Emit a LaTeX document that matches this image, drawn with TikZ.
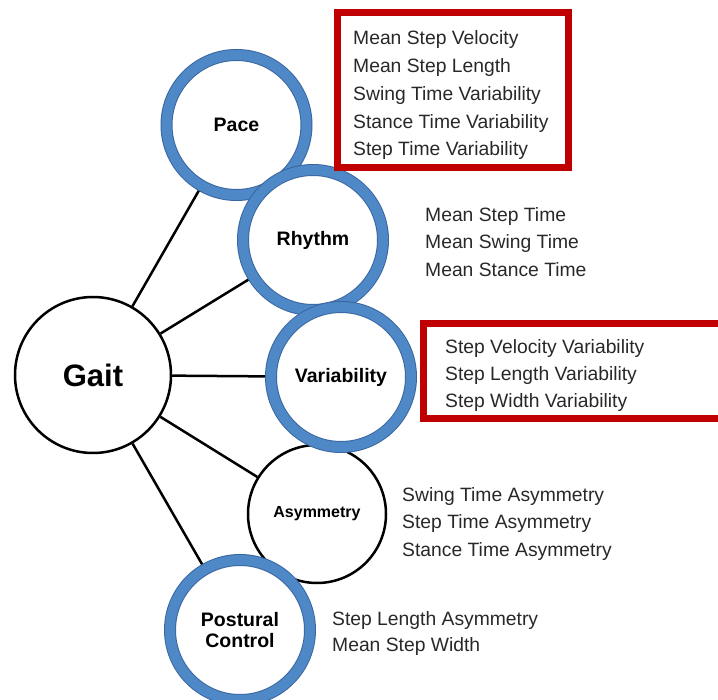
\documentclass[tikz,border=0pt]{standalone}
\usepackage{fontspec}
\setmainfont{Liberation Sans}
\usetikzlibrary{backgrounds}
\definecolor{bleuanneau}{RGB}{79,136,199}
\definecolor{bordanneau}{RGB}{58,102,160}
\definecolor{rougecadre}{RGB}{192,0,0}
\definecolor{grisitem}{RGB}{40,40,40}

\begin{document}
\begin{tikzpicture}[x=1pt, y=-1pt]
	\tikzset{noeud/.style={circle, draw=black, line width=2.5pt, fill=white, minimum size=138pt, inner sep=0pt, align=center, font=\bfseries\fontsize{19.5}{21}\selectfont},
	anneau/.style={noeud, draw=bordanneau, line width=1pt, double=bleuanneau, double distance=10pt, minimum size=140pt},
	item/.style={anchor=base west, inner sep=0pt, text=grisitem, font=\fontsize{19.3}{23}\selectfont},
	cadre/.style={draw=rougecadre, line width=7pt},
	lien/.style={draw=black, line width=2.5pt}};

	\useasboundingbox (0,0) rectangle (718,700);

	% les cercles
	\node[noeud, minimum size=156pt, font=\bfseries\fontsize{31}{33}\selectfont] (gait) at (93,375) {Gait};
	\node[anneau] (pace) at (236.5,125) {Pace};
	\node[anneau] (rhythm) at (313,240) {Rhythm};
	\node[noeud, font=\bfseries\fontsize{16}{18}\selectfont] (asym) at (317,514) {Asymmetry};
	\node[anneau] (var) at (341,377) {Variability};
	\node[anneau] (post) at (240,630) {Postural\\Control};

	\begin{scope}[on background layer]
		\foreach \cible in {pace, rhythm, var, asym, post}
			\draw[lien] (gait) -- (\cible);
	\end{scope}

	% les listes
	\foreach \nom/\x/\y/\pas/\liste in {
		pace/353/44.8/27.8/{Mean Step Velocity, Mean Step Length, Swing Time Variability, Stance Time Variability, Step Time Variability},
		rhythm/425/221.5/27.5/{Mean Step Time, Mean Swing Time, Mean Stance Time},
		var/445/353.5/27/{Step Velocity Variability, Step Length Variability, Step Width Variability},
		asym/402/501.5/27.5/{Swing Time Asymmetry, Step Time Asymmetry, Stance Time Asymmetry},
		post/332/625.5/26/{Step Length Asymmetry, Mean Step Width}}{
		\foreach \t [count=\i] in \liste
			\node[item] (\nom-\i) at (\x, \y + \pas * \i - \pas) {\t};
	}

	% les cadres rouges
	\draw[cadre] (337.5,12.5) rectangle (568.5,167.5);
	\begin{scope}
		\clip (0,0) rectangle (718,700);
		\draw[cadre] (423.5,323.5) rectangle (730,418.5);
	\end{scope}

\end{tikzpicture}
\end{document}
